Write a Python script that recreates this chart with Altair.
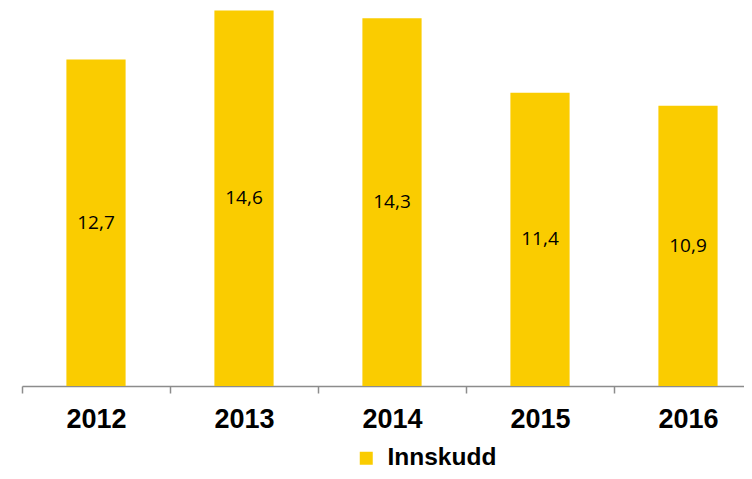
import altair as alt
import pandas as pd

years = ["2012", "2013", "2014", "2015", "2016"]
values = [12.7, 14.6, 14.3, 11.4, 10.9]
series_name = "Innskudd"

df = pd.DataFrame({"year": years, "value": values, "series": [series_name] * len(years)})

YELLOW = "#FACC00"
AXIS_GREY = "#8C8C8C"

# band scale runs past the visible right edge, as in the reference (last band is cut)
xscale = alt.Scale(range=[0, 740], paddingInner=0.6, paddingOuter=0.3)

x = alt.X(
    "year:N",
    sort=years,
    title=None,
    scale=xscale,
    axis=alt.Axis(
        labelAngle=0,
        labelFont="Liberation Sans",
        labelFontSize=27,
        labelFontWeight="bold",
        labelColor="#000000",
        labelPadding=13,
        labelOffset=74,
        domainColor=AXIS_GREY,
        domainWidth=1.5,
        ticks=True,
        tickColor=AXIS_GREY,
        tickWidth=1.5,
        tickSize=7,
        tickOffset=-74,
        grid=False,
    ),
)

bars = alt.Chart(df).mark_bar(color=YELLOW).encode(
    x=x,
    y=alt.Y("value:Q", scale=alt.Scale(domain=[0, 14.7], nice=False, zero=True), axis=None),
    color=alt.Color(
        "series:N",
        scale=alt.Scale(domain=[series_name], range=[YELLOW]),
        legend=alt.Legend(
            title=None,
            orient="none",
            legendX=332,
            legendY=438,
            symbolType="square",
            symbolSize=169,
            symbolStrokeWidth=0,
            labelFont="Liberation Sans",
            labelFontSize=24.5,
            labelFontWeight="bold",
            labelColor="#000000",
            labelOffset=9,
            padding=0,
        ),
    ),
)

labels = alt.Chart(df).transform_calculate(
    mid="datum.value / 2",
    lbl="replace(format(datum.value, '.1f'), '.', ',')",
).mark_text(font="Open Sans", fontSize=19, color="#000000", baseline="middle").encode(
    x=alt.X("year:N", sort=years, scale=xscale),
    y=alt.Y("mid:Q"),
    text="lbl:N",
)

chart = (
    alt.layer(bars, labels)
    .properties(
        width=722,
        height=378,
        autosize=alt.AutoSizeParams(type="none"),
        padding={"left": 14, "top": 0, "right": 0, "bottom": 84},
    )
    .configure_view(stroke=None)
)

chart.save("out.html", embed_options={"renderer": "svg", "actions": False})
